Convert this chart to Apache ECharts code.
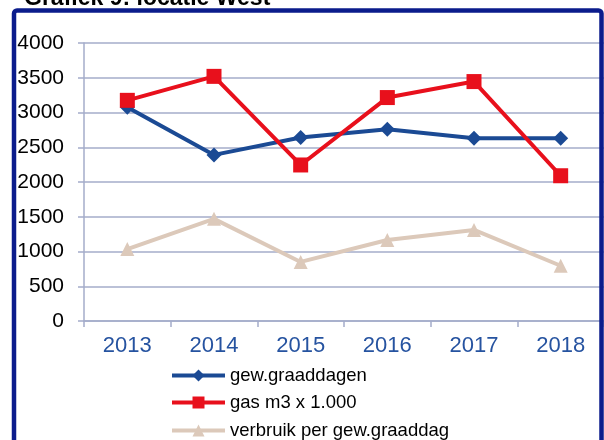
<!DOCTYPE html>
<html>
<head>
<meta charset="utf-8">
<script src="https://cdn.jsdelivr.net/npm/echarts@6/dist/echarts.min.js"></script>
<style>
html,body{margin:0;padding:0;background:#fff;}
#chart{width:604px;height:440px;}
</style>
</head>
<body>
<div id="chart"></div>
<script>
var years = ['2013', '2014', '2015', '2016', '2017', '2018'];
var graaddagen = [3075, 2390, 2640, 2760, 2630, 2630];
var gasM3 = [3175, 3520, 2245, 3215, 3445, 2090];
var verbruik = [1035, 1470, 850, 1165, 1310, 795];
var yTicks = [0, 500, 1000, 1500, 2000, 2500, 3000, 3500, 4000];
var seriesNames = ['gew.graaddagen', 'gas m3 x 1.000', 'verbruik per gew.graaddag'];

var gridColor = '#a4acca';
var fontFam = '"Liberation Sans", Arial, sans-serif';

// één legenda per regel, anders breekt ECharts de kolom af
function legendRow(name, top) {
	return {
		orient: 'vertical',
		left: 170,
		top: top,
		padding: 0,
		itemWidth: 53,
		itemHeight: 15,
		itemGap: 0,
		lineStyle: { width: 4 },
		textStyle: { color: '#000', fontSize: 18.5, fontFamily: fontFam, padding: [0, 0, 0, 0] },
		data: [name]
	};
}

var myChart = echarts.init(document.getElementById('chart'));
var option = {
	animation: false,
	backgroundColor: '#fff',
	grid: {
		left: 84,
		top: 43,
		width: 521,
		height: 278
	},
	legend: [
		legendRow(seriesNames[0], 366),
		legendRow(seriesNames[1], 393),
		legendRow(seriesNames[2], 421)
	],
	xAxis: {
		type: 'category',
		data: years,
		boundaryGap: true,
		axisLine: { lineStyle: { color: gridColor, width: 1.5 } },
		axisTick: { show: true, length: 6, lineStyle: { color: gridColor, width: 1.5 } },
		axisLabel: { color: '#2653a0', fontSize: 22, fontFamily: fontFam, margin: 14 }
	},
	yAxis: {
		type: 'value',
		min: yTicks[0],
		max: yTicks[yTicks.length - 1],
		interval: 500,
		axisLine: { show: true, lineStyle: { color: gridColor, width: 1.5 } },
		axisTick: { show: true, length: 6, lineStyle: { color: gridColor, width: 1.5 } },
		splitLine: { lineStyle: { color: gridColor, width: 1.5 } },
		axisLabel: {
			color: '#000', fontSize: 21, fontFamily: fontFam, margin: 20,
			formatter: function (v) { return String(v); }
		}
	},
	series: [
		{
			name: seriesNames[2],
			type: 'line',
			data: verbruik,
			symbol: 'triangle',
			symbolSize: 14,
			z: 2,
			lineStyle: { color: '#dcc9ba', width: 4 },
			itemStyle: { color: '#dcc9ba' }
		},
		{
			name: seriesNames[0],
			type: 'line',
			data: graaddagen,
			symbol: 'diamond',
			symbolSize: 15,
			z: 3,
			lineStyle: { color: '#1b4a94', width: 4 },
			itemStyle: { color: '#1b4a94' }
		},
		{
			name: seriesNames[1],
			type: 'line',
			data: gasM3,
			symbol: 'rect',
			symbolSize: 15,
			z: 4,
			lineStyle: { color: '#e8101c', width: 4 },
			itemStyle: { color: '#e8101c' }
		}
	],
	graphic: [
		{
			type: 'rect',
			z: 100,
			shape: { x: 14, y: 10.5, width: 587.5, height: 440, r: 3 },
			style: { fill: 'none', stroke: '#0b1c8c', lineWidth: 4.5 }
		},
		{
			type: 'text',
			z: 100,
			left: 24,
			top: -13,
			style: { text: 'Grafiek 9: locatie West', font: 'bold 23px "Liberation Sans", Arial, sans-serif', fill: '#000' }
		}
	]
};
myChart.setOption(option);
</script>
</body>
</html>
